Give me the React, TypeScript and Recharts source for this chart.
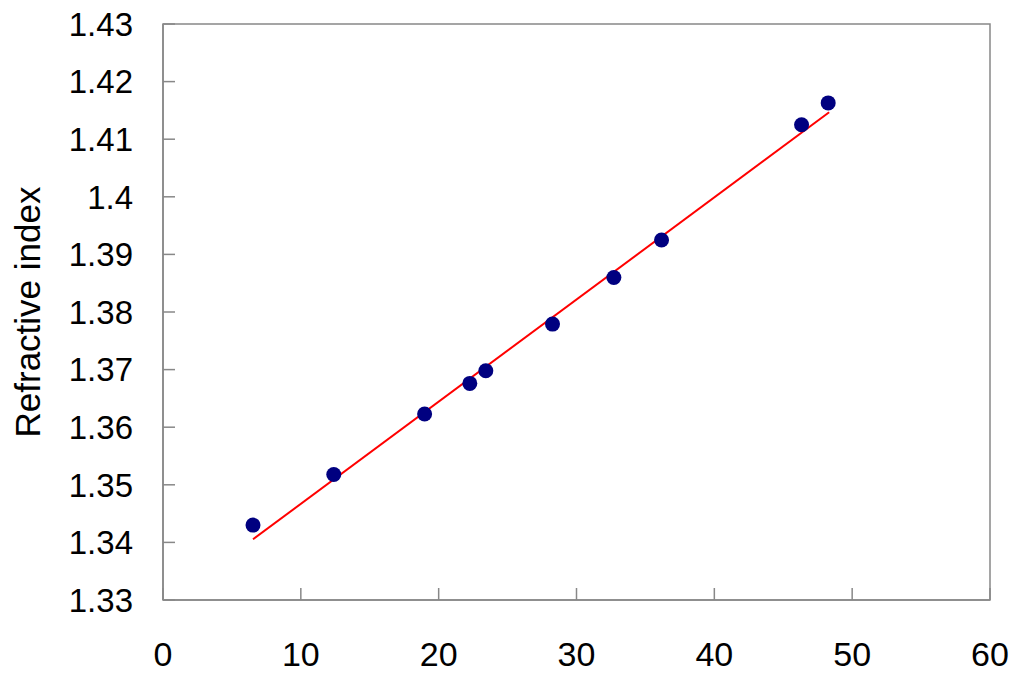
import React from 'react';
import {
  ComposedChart,
  Scatter,
  Line,
  XAxis,
  YAxis,
  ReferenceArea,
} from 'recharts';

const xValues = [6.53, 12.39, 18.98, 22.26, 23.42, 28.26, 32.71, 36.17, 46.33, 48.26];
const yValues = [1.343, 1.3518, 1.3623, 1.3676, 1.3698, 1.3779, 1.386, 1.3925, 1.4125, 1.4163];
const fitX = [6.53, 48.33];
const fitY = [1.34054, 1.41467];
const xTicks = [0, 10, 20, 30, 40, 50, 60];
const yTicks = [1.33, 1.34, 1.35, 1.36, 1.37, 1.38, 1.39, 1.4, 1.41, 1.42, 1.43];
const yLabel = 'Refractive index';

const points = xValues.map((x, i) => ({ x, y: yValues[i] }));
const fitLine = fitX.map((x, i) => ({ x, y: fitY[i] }));

const FONT = 'Arial, "Liberation Sans", Helvetica, sans-serif';

const YLabel = (props: any) => {
  const vb = props.viewBox || {};
  const cy = (vb.y || 0) + (vb.height || 0) / 2;
  const x = 40;
  return (
    <text
      x={x}
      y={cy}
      transform={`rotate(-90 ${x} ${cy})`}
      textAnchor="middle"
      fontSize={35}
      fontFamily={FONT}
      fill="#000"
    >
      {yLabel}
    </text>
  );
};

export default function App() {
  return (
    <div style={{ position: 'absolute', left: 0, top: 0, width: 1024, height: 674, background: '#fff' }}>
      <ComposedChart
        width={1024}
        height={674}
        margin={{ top: 24, right: 34, bottom: 0, left: 0 }}
      >
        <XAxis
          type="number"
          dataKey="x"
          domain={[0, 60]}
          ticks={xTicks}
          interval={0}
          allowDataOverflow
          height={74}
          stroke="#888"
          strokeWidth={1.5}
          tickSize={-12}
          tickMargin={54}
          tick={{ fill: '#000', fontSize: 34, fontFamily: FONT }}
        />
        <YAxis
          type="number"
          dataKey="y"
          domain={[1.33, 1.43]}
          ticks={yTicks}
          interval={0}
          allowDataOverflow
          width={163}
          stroke="#888"
          strokeWidth={1.5}
          tickSize={-12}
          tickMargin={42}
          tick={{ fill: '#000', fontSize: 33, fontFamily: FONT }}
          tickFormatter={(v: number) => String(Number(v.toFixed(2)))}
          label={<YLabel />}
        />
        <ReferenceArea
          x1={0}
          x2={60}
          y1={1.33}
          y2={1.43}
          fill="none"
          stroke="#888"
          strokeWidth={1.5}
          ifOverflow="visible"
        />
        <Line
          data={fitLine}
          dataKey="y"
          type="linear"
          stroke="#ff0000"
          strokeWidth={2}
          dot={false}
          activeDot={false}
          isAnimationActive={false}
        />
        <Scatter
          data={points}
          dataKey="y"
          fill="#000080"
          shape={(p: any) => <circle cx={p.cx} cy={p.cy} r={7.5} fill="#000080" />}
          isAnimationActive={false}
        />
      </ComposedChart>
    </div>
  );
}
